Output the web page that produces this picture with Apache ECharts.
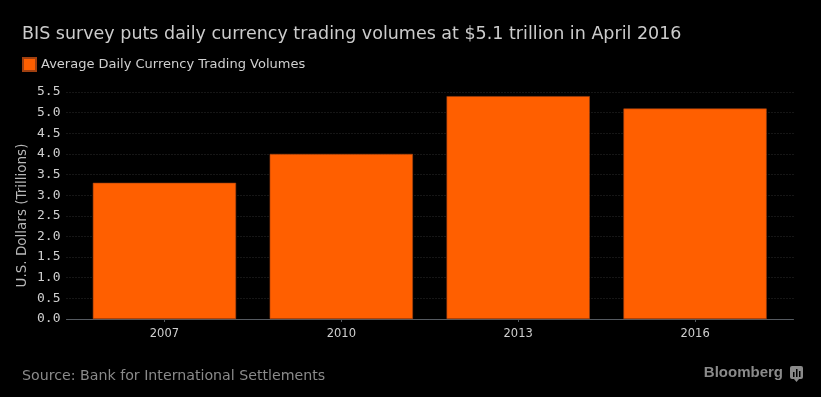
<!DOCTYPE html>
<html>
<head>
<meta charset="utf-8">
<script src="https://cdn.jsdelivr.net/npm/echarts@6/dist/echarts.min.js"></script>
<style>
  html, body { margin: 0; padding: 0; background: #000; }
  #chart { width: 821px; height: 397px; }
</style>
</head>
<body>
<div id="chart"></div>
<script>
const years = ['2007', '2010', '2013', '2016'];
const volumes = [3.3, 4.0, 5.4, 5.1];
const seriesName = 'Average Daily Currency Trading Volumes';

const chart = echarts.init(document.getElementById('chart'));
const orange = '#ff5f00';
const sans = 'DejaVu Sans';

chart.setOption({
  backgroundColor: '#000',
  animation: false,
  title: [
    {
      text: 'BIS survey puts daily currency trading volumes at $5.1 trillion in April 2016',
      left: 17, top: 20,
      textStyle: { color: '#cccccc', fontSize: 17.5, fontWeight: 'normal', fontFamily: sans }
    },
    {
      text: 'Source: Bank for International Settlements',
      left: 17, top: 364,
      textStyle: { color: '#8a8a8a', fontSize: 14.2, fontWeight: 'normal', fontFamily: sans }
    },
    {
      text: 'Bloomberg',
      right: 33, top: 360,
      textStyle: { color: '#8a8a8a', fontSize: 15, fontWeight: 'bold', fontFamily: 'Liberation Sans' }
    }
  ],
  legend: {
    left: 17, top: 52,
    itemWidth: 13, itemHeight: 13,
    icon: 'rect',
    data: [seriesName],
    textStyle: { color: '#d0d0d0', fontSize: 13, fontFamily: sans }
  },
  // wide grid: gridlines, y labels, baseline
  // narrow grid: the bars and year labels
  grid: [
    { left: 66.5, right: 27.5, top: 92, bottom: 78 },
    { left: 76, right: 37.5, top: 92, bottom: 78 }
  ],
  xAxis: [
    {
      gridIndex: 0, type: 'value', min: 0, max: 1,
      axisLine: { show: true, onZero: false, lineStyle: { color: '#555a60', width: 1 } },
      axisTick: { show: false }, axisLabel: { show: false }, splitLine: { show: false }
    },
    {
      gridIndex: 1, type: 'category', data: years,
      axisLine: { show: false },
      axisTick: { show: true, alignWithLabel: true, length: 3, lineStyle: { color: '#555a60' } },
      axisLabel: { color: '#cfcfcf', fontSize: 11.5, margin: 9, fontFamily: sans }
    }
  ],
  yAxis: [
    {
      gridIndex: 0, type: 'value', min: 0, max: 5.5, interval: 0.5,
      axisLine: { show: false }, axisTick: { show: false },
      axisLabel: {
        color: '#cfcfcf', fontSize: 13, margin: 6, fontFamily: 'DejaVu Sans Mono',
        formatter: v => v.toFixed(1)
      },
      splitLine: { lineStyle: { color: '#2c2c2c', type: [1, 2], width: 1 } }
    },
    {
      gridIndex: 1, type: 'value', min: 0, max: 5.5, interval: 0.5,
      show: false
    }
  ],
  graphic: [
    {
      type: 'text', x: 22.5, y: 215.5, rotation: Math.PI / 2,
      style: {
        text: 'U.S. Dollars (Trillions)', fill: '#b8b8b8',
        font: '13.5px "DejaVu Sans"', align: 'center', verticalAlign: 'middle'
      }
    },
    {
      type: 'group', x: 790, y: 366,
      children: [
        { type: 'rect', shape: { x: 0, y: 0, width: 13, height: 13, r: 2 }, style: { fill: '#8a8a8a' } },
        { type: 'polygon', shape: { points: [[4, 13], [9, 13], [6.5, 16]] }, style: { fill: '#8a8a8a' } },
        { type: 'rect', shape: { x: 3, y: 6, width: 1.5, height: 5 }, style: { fill: '#000' } },
        { type: 'rect', shape: { x: 6, y: 3, width: 1.5, height: 8 }, style: { fill: '#000' } },
        { type: 'rect', shape: { x: 9, y: 5, width: 1.5, height: 6 }, style: { fill: '#000' } }
      ]
    }
  ],
  series: [{
    name: seriesName,
    type: 'bar',
    xAxisIndex: 1, yAxisIndex: 1,
    data: volumes,
    barCategoryGap: '19%',
    itemStyle: { color: orange, borderColor: '#a04010', borderWidth: 0.6 }
  }]
});
</script>
</body>
</html>
